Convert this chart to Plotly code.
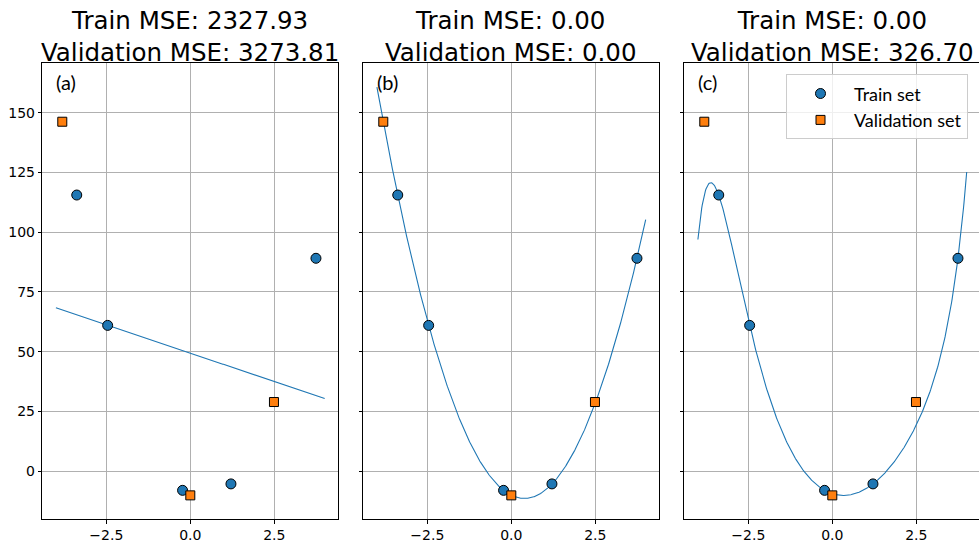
import warnings
import numpy as np
import plotly.graph_objects as go

warnings.simplefilter("ignore")  # polyfit warns that degree 11 is poorly conditioned

# Observations
train_x = [-3.38, -2.46, -0.23, 1.21, 3.74]
train_y = [115.6, 61.0, -8.1, -5.4, 89.1]
val_x = [-3.81, 0.0, 2.49]
val_y = [146.3, -10.2, 28.9]

# Polynomial degree fitted in each panel
degrees = [1, 2, 11]
title_train = ["Train MSE: 2327.93", "Train MSE: 0.00", "Train MSE: 0.00"]
title_val = ["Validation MSE: 3273.81", "Validation MSE: 0.00", "Validation MSE: 326.70"]
panel_labels = ["(a)", "(b)", "(c)"]

x_ticks = [-2.5, 0.0, 2.5]
x_tick_text = ["\u22122.5", "0.0", "2.5"]
y_ticks = [0, 25, 50, 75, 100, 125, 150]
y_tick_text = ["0", "25", "50", "75", "100", "125", "150"]

BLUE = "#1f77b4"
ORANGE = "#ff7f0e"
GRID = "#b0b0b0"
FONT = "DejaVu Sans"
LABEL_FONT = "Lato"

W, H = 979, 545
M_T, M_B = 63, 26
plot_h = H - M_T - M_B

domains = [[42.3 / W, 338.3 / W], [363.3 / W, 659.3 / W], [684.3 / W, 1.0]]
x_ranges = [[-4.405, 4.405], [-4.405, 4.405], [-4.366 - 0.039, 4.366]]
y_range = [-20.1, 170.9]

x_grid = np.linspace(-4, 4, 500)

fig = go.Figure()

for i, deg in enumerate(degrees):
    xa = "x" if i == 0 else f"x{i+1}"
    ya = "y" if i == 0 else f"y{i+1}"
    coef = np.polyfit(train_x, train_y, deg)
    fig.add_trace(go.Scatter(
        x=x_grid, y=np.polyval(coef, x_grid), mode="lines",
        line=dict(color=BLUE, width=1.1), showlegend=False,
        xaxis=xa, yaxis=ya, hoverinfo="skip"))
    fig.add_trace(go.Scatter(
        x=train_x, y=train_y, mode="markers", name="Train set",
        marker=dict(symbol="circle", size=10, color=BLUE,
                    line=dict(color="black", width=1)),
        showlegend=(i == 2), xaxis=xa, yaxis=ya))
    fig.add_trace(go.Scatter(
        x=val_x, y=val_y, mode="markers", name="Validation set",
        marker=dict(symbol="square", size=9, color=ORANGE,
                    line=dict(color="black", width=1)),
        showlegend=(i == 2), xaxis=xa, yaxis=ya))

layout = dict(
    width=W, height=H,
    margin=dict(l=0, r=0, t=M_T, b=M_B, pad=0),
    paper_bgcolor="white", plot_bgcolor="white",
    showlegend=True,
    legend=dict(x=786 / W, y=(H - M_B - 74.3) / plot_h, xanchor="left", yanchor="top",
                bgcolor="rgba(255,255,255,0.8)", bordercolor="#cccccc", borderwidth=1,
                font=dict(family=LABEL_FONT, size=18, color="black"),
                itemwidth=57),
)

annotations = []
for i in range(3):
    n = "" if i == 0 else str(i + 1)
    layout[f"xaxis{n}"] = dict(
        domain=domains[i], range=x_ranges[i], anchor=f"y{n}",
        tickvals=x_ticks, ticktext=x_tick_text,
        ticks="outside", ticklen=3.5, tickwidth=1, tickcolor="black",
        showline=True, linecolor="black", linewidth=1, mirror=True,
        showgrid=True, gridcolor=GRID, gridwidth=1, zeroline=False,
        tickfont=dict(family=FONT, size=14, color="black"))
    layout[f"yaxis{n}"] = dict(
        domain=[0, 1], range=y_range, anchor=f"x{n}",
        tickvals=y_ticks, ticktext=y_tick_text, showticklabels=(i == 0),
        ticks="outside", ticklen=3.5, tickwidth=1, tickcolor="black",
        showline=True, linecolor="black", linewidth=1, mirror=(i < 2),
        showgrid=True, gridcolor=GRID, gridwidth=1, zeroline=False,
        tickfont=dict(family=FONT, size=14, color="black"))
    if i > 0:
        layout[f"yaxis{n}"]["matches"] = "y"

    xref = f"x{n}"
    annotations.append(dict(
        text=f"{title_train[i]}<br>{title_val[i]}", xref=xref, x=0, yref="paper",
        y=(H - M_B - 36.5) / plot_h, xanchor="center", yanchor="middle",
        align="center", showarrow=False,
        font=dict(family=FONT, size=24.5, color="black")))
    annotations.append(dict(
        text=panel_labels[i], xref=xref, x=-4.05, yref=f"y{n}", y=163,
        xanchor="left", yanchor="middle", showarrow=False,
        font=dict(family=LABEL_FONT, size=20, color="black")))

layout["annotations"] = annotations
fig.update_layout(**layout)

fig.write_html("out.html")
